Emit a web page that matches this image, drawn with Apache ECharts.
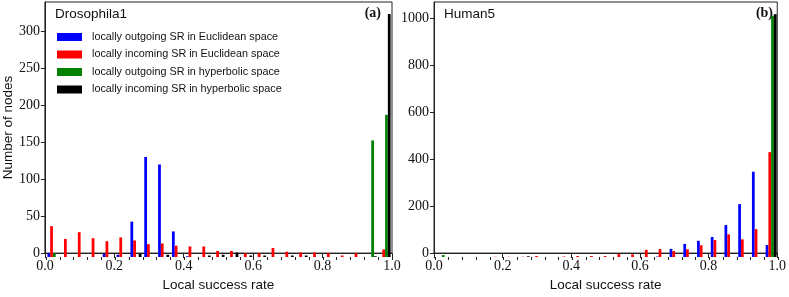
<!DOCTYPE html>
<html>
<head>
<meta charset="utf-8">
<script src="https://cdn.jsdelivr.net/npm/echarts@6/dist/echarts.min.js"></script>
<style>html,body{margin:0;padding:0;background:#fff}#c{width:789px;height:297px}</style>
</head>
<body>
<div id="c"></div>
<script>
// ---- data ----
const seriesNames = ['locally outgoing SR in Euclidean space','locally incoming SR in Euclidean space','locally outgoing SR in hyperbolic space','locally incoming SR in hyperbolic space'];
const colors = ['#0000ff','#ff0000','#008000','#000000'];

// Drosophila1 bins (start of each bin)
const binsA = ['0.009','0.048','0.088','0.127','0.167','0.207','0.246','0.286','0.325','0.365','0.405','0.444','0.484','0.523','0.563','0.603','0.642','0.682','0.721','0.761','0.801','0.840','0.880','0.919','0.959'];
const outEuclA = [5,0,0,0,4,3,47,133,123,34,1,0,0,0,0,0,0,0,0,0,0,0,0,0,0];
const inEuclA  = [41,24,33,25,21,26,22,17,18,15,14,14,8,8,5,5,12,7,6,6,5,2,5,0,10];
const outHypA  = [5,0,0,0,0,0,0,0,0,0,0,0,0,0,0,0,0,0,0,0,0,0,0,155,189];
const inHypA   = [0,0,0,0,0,0,4,0,3,0,0,2,3,6,2,2,0,2,2,0,0,0,0,1,323];

// Human5 bins
const binsB = ['0.004','0.044','0.084','0.123','0.163','0.203','0.243','0.283','0.322','0.362','0.402','0.442','0.482','0.521','0.561','0.601','0.641','0.681','0.720','0.760','0.800','0.840','0.880','0.919','0.959'];
const outEuclB = [0,0,0,0,0,0,0,0,0,0,0,0,0,0,0,0,2,34,55,68,84,134,222,358,50];
const inEuclB  = [0,0,0,0,1,1,1,4,0,2,4,4,4,13,11,30,33,25,32,49,71,95,74,117,440];
const outHypB  = [8,0,0,0,0,0,0,0,0,0,0,0,0,0,0,0,0,0,0,0,0,0,0,0,1013];
const inHypB   = [0,0,0,0,0,0,3,0,0,0,0,0,0,0,0,0,0,0,0,0,0,0,0,0,1019];

const xTicks = [0,0.2,0.4,0.6,0.8,1.0];
const yTicksA = [0,50,100,150,200,250,300];
const yTicksB = [0,200,400,600,800,1000];
const yMaxA = 339, yMaxB = 1070;

// ---- chart ----
const serif = 'Liberation Serif';
const sans = 'Liberation Sans';
const frame = '#222';

function visX(gi){
  return {type:'value', gridIndex:gi, min:0, max:1, interval:0.2,
    axisLine:{show:true, lineStyle:{color:frame}},
    axisTick:{show:true, inside:false, length:5, lineStyle:{color:frame}, customValues:xTicks},
    axisLabel:{fontFamily:serif, fontSize:14, color:'#111', margin:6, customValues:xTicks,
      formatter:v=>v.toFixed(1)},
    splitLine:{show:false},
    name:'Local success rate', nameLocation:'middle', nameGap:21,
    nameTextStyle:{fontFamily:sans, fontSize:13.5, color:'#111', verticalAlign:'top'}};
}
function binX(gi, cats){
  return {type:'category', gridIndex:gi, data:cats, boundaryGap:true,
    axisLine:{show:false},
    axisTick:{show:true, inside:false, length:3, interval:0, lineStyle:{color:frame}},
    axisLabel:{show:false}, splitLine:{show:false}};
}
function visY(gi, max, ticks, name){
  const o = {type:'value', gridIndex:gi, min:0, max:max,
    axisLine:{show:true, lineStyle:{color:frame}},
    axisTick:{show:true, inside:false, length:4, lineStyle:{color:frame}, customValues:ticks},
    axisLabel:{fontFamily:serif, fontSize:14, color:'#111', margin:5, customValues:ticks,
      formatter:v=>String(v)},
    splitLine:{show:false}};
  if(name){ Object.assign(o,{name:name, nameLocation:'middle', nameGap:27,
    nameTextStyle:{fontFamily:sans, fontSize:13.5, color:'#111'}}); }
  return o;
}
function hidY(gi, max){
  return {type:'value', gridIndex:gi, min:0, max:max, show:false, splitLine:{show:false}};
}
function bars(xi, yi, arrs){
  return arrs.map((d,i)=>({type:'bar', name:seriesNames[i], xAxisIndex:xi, yAxisIndex:yi,
    data:d, itemStyle:{color:colors[i]}, barGap:'0%', barCategoryGap:'20%',
    animation:false, emphasis:{disabled:true}}));
}

const option = {
  animation:false,
  grid:[
    {left:43, top:2, width:349, height:255, show:true, borderColor:frame, borderWidth:1, containLabel:false},
    {left:46, top:2, width:346, height:255, containLabel:false},
    {left:434, top:2, width:344, height:255, show:true, borderColor:frame, borderWidth:1, containLabel:false},
    {left:435, top:2, width:343, height:255, containLabel:false}
  ],
  xAxis:[visX(0), binX(1, binsA), visX(2), binX(3, binsB)],
  yAxis:[visY(0, yMaxA, yTicksA, 'Number of nodes'), hidY(1, yMaxA), visY(2, yMaxB, yTicksB, null), hidY(3, yMaxB)],
  legend:{orient:'vertical', left:57, top:30, padding:0, itemWidth:25, itemHeight:8, itemGap:3.5, icon:'rect',
    data:seriesNames, selectedMode:false,
    textStyle:{fontFamily:sans, fontSize:10.8, color:'#111', lineHeight:14, padding:[0,0,0,5]}},
  series:[].concat(
    bars(1,1,[outEuclA,inEuclA,outHypA,inHypA]),
    bars(3,3,[outEuclB,inEuclB,outHypB,inHypB])
  ),
  graphic:[
    {type:'text', left:55, top:7, style:{text:'Drosophila1', font:'13.5px "Liberation Sans"', fill:'#111'}},
    {type:'text', left:444, top:7, style:{text:'Human5', font:'13.5px "Liberation Sans"', fill:'#111'}},
    {type:'text', right:789-381, top:6, style:{text:'(a)', font:'bold 14px "Liberation Serif"', fill:'#111'}},
    {type:'text', right:789-773, top:6, style:{text:'(b)', font:'bold 14px "Liberation Serif"', fill:'#111'}}
  ]
};
const chart = echarts.init(document.getElementById('c'), null, {renderer:'canvas'});
chart.setOption(option);
</script>
</body>
</html>
